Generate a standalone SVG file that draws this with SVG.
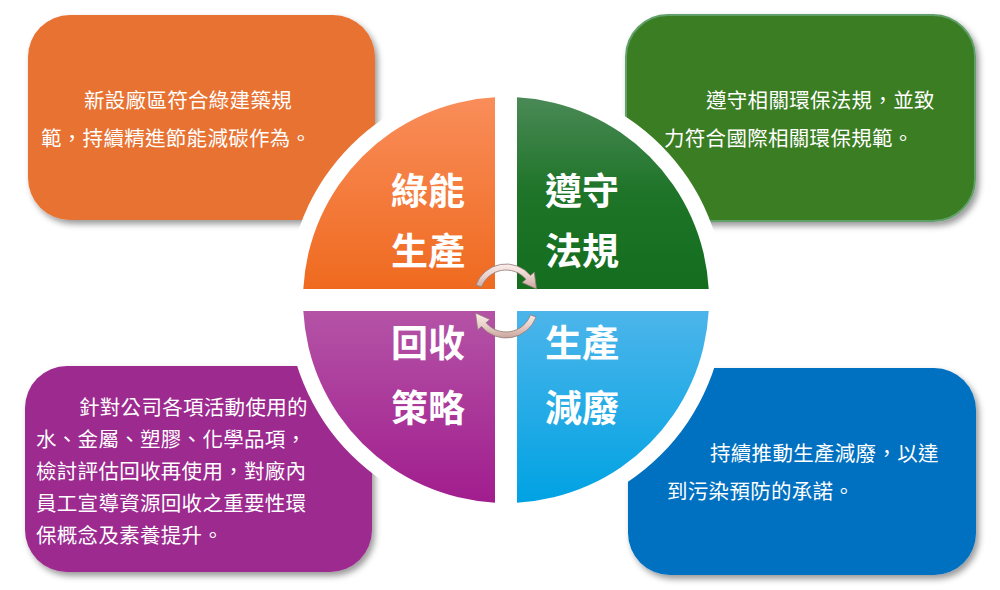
<svg xmlns="http://www.w3.org/2000/svg" width="1000" height="590" viewBox="0 0 1000 590">
  <defs>
    <filter id="shadow" x="-10%" y="-10%" width="125%" height="130%">
      <feDropShadow dx="3" dy="4" stdDeviation="3" flood-color="#000" flood-opacity="0.4"/>
    </filter>
    <linearGradient id="gOrange" x1="0" y1="0" x2="0" y2="1">
      <stop offset="0" stop-color="#F98D5A"/>
      <stop offset="1" stop-color="#EF6A1F"/>
    </linearGradient>
    <linearGradient id="gGreen" x1="0" y1="0" x2="0" y2="1">
      <stop offset="0" stop-color="#4A8956"/>
      <stop offset="0.5" stop-color="#1E7428"/>
      <stop offset="1" stop-color="#146E1E"/>
    </linearGradient>
    <linearGradient id="gPurple" x1="0" y1="0" x2="0" y2="1">
      <stop offset="0" stop-color="#B453A6"/>
      <stop offset="1" stop-color="#A11D8E"/>
    </linearGradient>
    <linearGradient id="gBlue" x1="0" y1="0" x2="0" y2="1">
      <stop offset="0" stop-color="#4CB5EA"/>
      <stop offset="1" stop-color="#00A2E3"/>
    </linearGradient>
    <linearGradient id="gArrow" x1="0" y1="0" x2="0" y2="1">
      <stop offset="0" stop-color="#FBEFEC"/>
      <stop offset="0.5" stop-color="#EAD0CA"/>
      <stop offset="1" stop-color="#C9A59D"/>
    </linearGradient>
    <style>
      .box { filter: url(#shadow); }
      .btxt { font-family: "Noto Sans CJK TC", "Noto Sans CJK SC", sans-serif; font-size: 20.5px; letter-spacing: 0.3px; fill: #FFFFFF; }
      .qtxt { font-family: "Noto Sans CJK TC", "Noto Sans CJK SC", sans-serif; font-size: 37px; font-weight: bold; fill: #FFFFFF; }
      .arrow { fill: url(#gArrow); stroke: #8E7A76; stroke-width: 0.8; stroke-linejoin: round; }
    </style>
  </defs>

  <rect width="1000" height="590" fill="#FFFFFF"/>

  <!-- Corner boxes -->
  <g id="box-green-production">
    <rect class="box" x="28" y="15" width="347" height="205" rx="42" fill="#E77232"/>
  </g>
  <g id="box-compliance">
    <rect class="box" x="626" y="15" width="349" height="206" rx="42" fill="#3B7D23" stroke="#62A06A" stroke-width="2"/>
  </g>
  <g id="box-recycling">
    <rect class="box" x="25" y="366" width="347" height="206" rx="42" fill="#9C2B8F"/>
  </g>
  <g id="box-waste-reduction">
    <rect class="box" x="628" y="368" width="348" height="207" rx="42" fill="#0070C0"/>
  </g>

  <!-- White ring around the circle -->
  <circle cx="506" cy="300" r="219" fill="#FFFFFF"/>

  <!-- Quadrants -->
  <g id="quad-green-production">
    <path d="M495,289 L495,97.3 A203,203 0 0 0 303.3,289 Z" fill="url(#gOrange)"/>
    <text class="qtxt" x="391" y="205">綠能</text>
    <text class="qtxt" x="391" y="265">生產</text>
  </g>
  <g id="quad-compliance">
    <path d="M517,289 L517,97.3 A203,203 0 0 1 708.7,289 Z" fill="url(#gGreen)"/>
    <text class="qtxt" x="545" y="205">遵守</text>
    <text class="qtxt" x="545" y="265">法規</text>
  </g>
  <g id="quad-recycling">
    <path d="M495,311 L495,502.7 A203,203 0 0 1 303.3,311 Z" fill="url(#gPurple)"/>
    <text class="qtxt" x="391" y="357">回收</text>
    <text class="qtxt" x="391" y="422">策略</text>
  </g>
  <g id="quad-waste-reduction">
    <path d="M517,311 L517,502.7 A203,203 0 0 0 708.7,311 Z" fill="url(#gBlue)"/>
    <text class="qtxt" x="545" y="357">生產</text>
    <text class="qtxt" x="545" y="422">減廢</text>
  </g>

  <!-- Box texts -->
  <g id="text-green-production">
    <text class="btxt" x="84" y="107.5">新設廠區符合綠建築規</text>
    <text class="btxt" x="41" y="145.5">範，持續精進節能減碳作為。</text>
  </g>
  <g id="text-compliance">
    <text class="btxt" x="706" y="107.5">遵守相關環保法規，並致</text>
    <text class="btxt" x="664" y="145.5">力符合國際相關環保規範。</text>
  </g>
  <g id="text-recycling">
    <text class="btxt" x="79" y="415">針對公司各項活動使用的</text>
    <text class="btxt" x="36" y="447">水、金屬、塑膠、化學品項，</text>
    <text class="btxt" x="36" y="479">檢討評估回收再使用，對廠內</text>
    <text class="btxt" x="36" y="511">員工宣導資源回收之重要性環</text>
    <text class="btxt" x="36" y="543">保概念及素養提升。</text>
  </g>
  <g id="text-waste-reduction">
    <text class="btxt" x="710" y="461">持續推動生產減廢，以達</text>
    <text class="btxt" x="667" y="499">到污染預防的承諾。</text>
  </g>

  <!-- Cycle arrows (connectors) -->
  <g id="connectors">
    <path class="arrow" d="M475.9,285.1 A32,32 0 0 1 530.5,275.4 L534.3,272.2 L536.5,289 L522.1,282.5 L525.9,279.3 A26,26 0 0 0 481.6,287.1 Z"/>
    <path class="arrow" d="M536.1,316.9 A32,32 0 0 1 481.5,326.6 L477.7,329.8 L475.5,313 L489.9,319.5 L486.1,322.7 A26,26 0 0 0 530.4,314.9 Z"/>
  </g>
</svg>
